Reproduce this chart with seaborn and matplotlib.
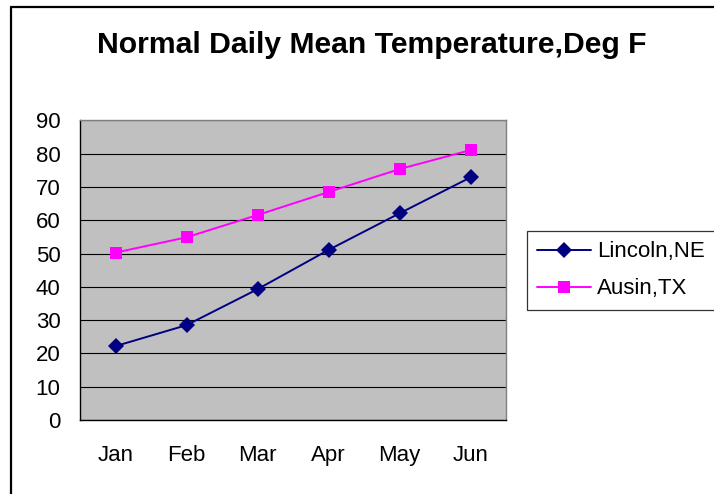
import matplotlib
matplotlib.use("Agg")
import matplotlib.pyplot as plt
import seaborn as sns
import pandas as pd
from matplotlib.lines import Line2D

months = ["Jan", "Feb", "Mar", "Apr", "May", "Jun"]
lincoln = [22.2, 28.5, 39.3, 51.1, 62.1, 72.9]
austin = [50.3, 54.9, 61.6, 68.5, 75.4, 81.1]
series_names = ["Lincoln,NE", "Ausin,TX"]
title = "Normal Daily Mean Temperature,Deg F"

rows = []
for name, vals in zip(series_names, [lincoln, austin]):
    for i, v in enumerate(vals):
        rows.append({"pos": i, "temp": v, "city": name})
df = pd.DataFrame(rows)

sns.set_style("white")
plt.rcParams["font.family"] = ["Liberation Sans", "DejaVu Sans"]
plt.rcParams["text.color"] = "black"
plt.rcParams["xtick.color"] = "black"
plt.rcParams["ytick.color"] = "black"
plt.rcParams["axes.labelcolor"] = "black"

fig = plt.figure(figsize=(7.14, 4.94), dpi=100)
W, H = 714, 494
ax = fig.add_axes([80 / W, 1 - 420 / H, 426 / W, 299.5 / H])
ax.set_facecolor("#C0C0C0")

sns.lineplot(data=df, x="pos", y="temp", hue="city", style="city",
             palette={"Lincoln,NE": "#000080", "Ausin,TX": "#FF00FF"},
             markers={"Lincoln,NE": "D", "Ausin,TX": "s"},
             dashes=False, markersize=8, linewidth=1.4,
             markeredgewidth=0, ax=ax, legend=False, zorder=3)

ax.set_xlim(-0.5, 5.5)
ax.set_ylim(0, 90)
ax.set_yticks(range(0, 91, 10))
ax.yaxis.grid(True, color="black", linewidth=0.8)
ax.set_axisbelow(True)
ax.set_xticks(range(6))
ax.set_xticklabels(months)
ax.set_xticks([i - 0.5 for i in range(7)], minor=True)
ax.tick_params(axis="x", which="major", length=0, pad=18, labelsize=16)
ax.tick_params(axis="x", which="minor", length=5, width=1, color="black", direction="out")
ax.tick_params(axis="y", length=6, width=1, color="black", direction="out", pad=8, labelsize=16)
ax.set_xlabel("")
ax.set_ylabel("")
for s in ["left", "bottom"]:
    ax.spines[s].set_color("black")
    ax.spines[s].set_linewidth(1.0)
for s in ["top", "right"]:
    ax.spines[s].set_color("#808080")
    ax.spines[s].set_linewidth(1.0)

fig.text(372 / W, 1 - 45 / H, title, ha="center", va="center",
         fontsize=21.7, fontweight="bold", color="black")

handles = [Line2D([], [], color="#000080", marker="D", markersize=8, linewidth=1.4, markeredgewidth=0),
           Line2D([], [], color="#FF00FF", marker="s", markersize=8, linewidth=1.4, markeredgewidth=0)]
leg = fig.legend(handles, series_names, loc="upper left",
                 bbox_to_anchor=(527 / W, 1 - 310 / H, 200 / W, 79 / H), mode="expand",
                 fontsize=16, frameon=True, fancybox=False, edgecolor="black",
                 borderpad=0.47, handlelength=2.4, handletextpad=0.3,
                 labelspacing=0.72, borderaxespad=0)
leg.get_frame().set_linewidth(0.9)
for t in leg.get_texts():
    t.set_color("black")

fig.add_artist(Line2D([11 / W, 11 / W], [0, 1 - 7 / H], color="black", linewidth=1.6,
                      transform=fig.transFigure))
fig.add_artist(Line2D([11 / W, 1], [1 - 7 / H, 1 - 7 / H], color="black", linewidth=1.6,
                      transform=fig.transFigure))

fig.savefig("out.png", dpi=100)
